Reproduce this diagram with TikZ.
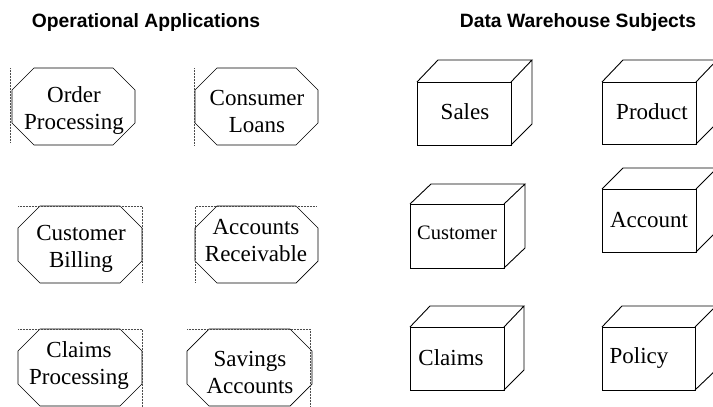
\documentclass[tikz,border=0pt]{standalone}
\usepackage{fontspec}
\setmainfont{Liberation Serif}
\newfontfamily\headfont{Liberation Sans}
\tikzset{
  octo/.style={draw=black, line width=0.7pt},
  cube/.style={draw=black, line width=0.9pt},
  guide/.style={draw=black!70, densely dotted, line width=0.5pt},
  label/.style={inner sep=0pt, align=center, font=\fontsize{23}{27}\selectfont},
  head/.style={inner sep=0pt, anchor=base, font=\headfont\bfseries\fontsize{19.3}{22}\selectfont}
}
\begin{document}
\begin{tikzpicture}[x=1pt,y=-1pt]
      \useasboundingbox (0,0) rectangle (713,407);
      % headings
      \node [head] (opshead) at (146,27) {Operational Applications};
      \node [head] (dwhead) at (578,27) {Data Warehouse Subjects};
      % operational applications
      \draw [octo] (34,68) -- (113,68) -- (135,90) -- (135,123) -- (113,145) -- (34,145) -- (12,123) -- (12,90) -- cycle;
      \draw [guide] (10,68) -- (10,143);
      \node [label] (order) at (74,111) {Order\\Processing};
      \draw [octo] (217,68) -- (296,68) -- (318,90) -- (318,123) -- (296,145) -- (217,145) -- (195,123) -- (195,90) -- cycle;
      \draw [guide] (194,68) -- (194,145);
      \node [label] (loans) at (257,111) {Consumer\\Loans};
      \draw [octo] (40,206) -- (120,206) -- (142,228) -- (142,261) -- (120,283) -- (40,283) -- (18,261) -- (18,228) -- cycle;
      \draw [guide] (18,206) -- (142,206) -- (142,282);
      \node [label] (billing) at (81,249) {Customer\\Billing};
      \draw [octo] (217,206) -- (296,206) -- (318,228) -- (318,261) -- (296,283) -- (217,283) -- (195,261) -- (195,228) -- cycle;
      \draw [guide] (195,282) -- (195,206) -- (317,206);
      \node [label] (receivable) at (256,241) {Accounts\\Receivable};
      \draw [octo] (40,329) -- (120,329) -- (142,351) -- (142,384) -- (120,406) -- (40,406) -- (18,384) -- (18,351) -- cycle;
      \draw [guide] (18,329) -- (142,329) -- (142,407);
      \node [label] (claimsproc) at (79,365) {Claims\\Processing};
      \draw [octo] (209,329) -- (290,329) -- (312,351) -- (312,384) -- (290,406) -- (209,406) -- (187,384) -- (187,351) -- cycle;
      \draw [guide] (187,329) -- (310,329) -- (310,407);
      \node [label] (savings) at (250,372) {Savings\\Accounts};
      % data warehouse subjects
      \draw [cube] (417,82) rectangle (511,145);
      \draw [cube] (417,82) -- (438,60) -- (532,60) -- (511,82) (532,60) -- (532,124) -- (511,145);
      \node [label] (sales) at (465,112) {Sales};
      \draw [cube] (602,82) rectangle (696,144);
      \draw [cube] (602,82) -- (623,60) -- (717,60) -- (696,82) (717,60) -- (717,123) -- (696,144);
      \node [label] (product) at (652,112) {Product};
      \draw [cube] (410,204) rectangle (504,268);
      \draw [cube] (410,204) -- (431,184) -- (525,184) -- (504,204) (525,184) -- (525,248) -- (504,268);
      \node [label, font=\fontsize{20.5}{24}\selectfont] (customer) at (457,233) {Customer};
      \draw [cube] (602,189) rectangle (696,252);
      \draw [cube] (602,189) -- (623,168) -- (717,168) -- (696,189) (717,168) -- (717,231) -- (696,252);
      \node [label] (account) at (649,220) {Account};
      \draw [cube] (410,327) rectangle (504,390);
      \draw [cube] (410,327) -- (430,306) -- (524,306) -- (504,327) (524,306) -- (524,370) -- (504,390);
      \node [label] (claims) at (451,358) {Claims};
      \draw [cube] (602,327) rectangle (695,390);
      \draw [cube] (602,327) -- (622,306) -- (716,306) -- (695,327) (716,306) -- (716,370) -- (695,390);
      \node [label] (policy) at (639,358) {Policy};
\end{tikzpicture}
\end{document}
